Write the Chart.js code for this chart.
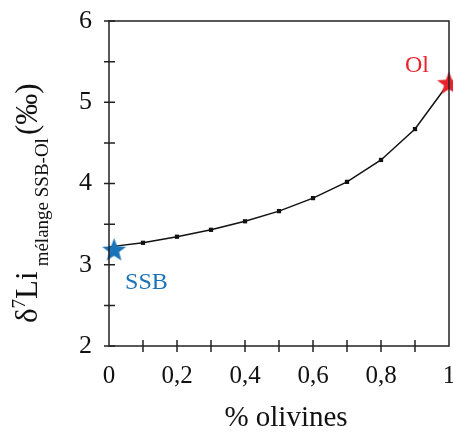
<!DOCTYPE html>
<html><head><meta charset="utf-8">
<script src="https://cdn.jsdelivr.net/npm/chart.js@4/dist/chart.umd.min.js"></script>
<style>html,body{margin:0;padding:0;background:#fff}#wrap{width:453px;height:433px;position:relative}</style>
</head><body><div id="wrap"><canvas id="c"></canvas></div>
<script>
// ---- data ----
const fractionOlivine = [0, 0.1, 0.2, 0.3, 0.4, 0.5, 0.6, 0.7, 0.8, 0.9, 1.0];
const delta7LiMix = [3.22, 3.27, 3.345, 3.43, 3.535, 3.66, 3.82, 4.02, 4.29, 4.67, 5.24];
const endMemberNames = ['SSB', 'Ol'];
const endMemberX = [0.015, 1.0];
const endMemberY = [3.19, 5.24];
const endMemberColors = ['#1a73b9', '#e8232b'];
const xTickLabels = ['0', '0,2', '0,4', '0,6', '0,8', '1'];
const yTickLabels = ['2', '3', '4', '5', '6'];

const SERIF = '"Liberation Serif", "DejaVu Serif", serif';

function makeStar(color, R) {
  const r = R * 0.42, s = Math.ceil(R * 2 + 2);
  const cv = document.createElement('canvas');
  cv.width = s; cv.height = s;
  const g = cv.getContext('2d');
  g.fillStyle = color;
  g.beginPath();
  for (let i = 0; i < 10; i++) {
    const a = -Math.PI / 2 + i * Math.PI / 5;
    const rr = i % 2 === 0 ? R : r;
    const px = s / 2 + rr * Math.cos(a), py = s / 2 + rr * Math.sin(a) + R * 0.1;
    i === 0 ? g.moveTo(px, py) : g.lineTo(px, py);
  }
  g.closePath(); g.fill();
  return cv;
}
const starImgs = endMemberColors.map(c => makeStar(c, 12.5));

const decor = {
  id: 'decor',
  afterDraw(chart) {
    const ctx = chart.ctx, a = chart.chartArea;
    const xs = chart.scales.x, ys = chart.scales.y;
    ctx.save();
    ctx.strokeStyle = '#222';
    ctx.lineWidth = 1.5;
    ctx.strokeRect(a.left, a.top, a.right - a.left, a.bottom - a.top);
    ctx.beginPath();
    for (let i = 1; i < 10; i++) {
      const px = xs.getPixelForValue(i / 10);
      ctx.moveTo(px, a.bottom - 6); ctx.lineTo(px, a.bottom + 6);
    }
    for (let i = 0; i <= 8; i++) {
      const py = ys.getPixelForValue(2 + i * 0.5);
      ctx.moveTo(a.left - 5, py); ctx.lineTo(a.left + 6, py);
    }
    ctx.stroke();
    // end member labels
    const meta = chart.getDatasetMeta(1);
    ctx.font = '24px ' + SERIF;
    ctx.textBaseline = 'alphabetic';
    const p0 = meta.data[0], p1 = meta.data[1];
    ctx.fillStyle = endMemberColors[0];
    ctx.textAlign = 'left';
    ctx.fillText(endMemberNames[0], p0.x + 11, p0.y + 40);
    ctx.fillStyle = endMemberColors[1];
    ctx.textAlign = 'right';
    ctx.fillText(endMemberNames[1], p1.x - 20, p1.y - 11);
    // y axis title with super/subscripts
    ctx.fillStyle = '#111';
    ctx.translate(37, 323);
    ctx.rotate(-Math.PI / 2);
    ctx.textAlign = 'left';
    let x = 0;
    const put = (t, size, dy) => {
      ctx.font = size + 'px ' + SERIF;
      ctx.fillText(t, x, dy);
      x += ctx.measureText(t).width;
    };
    put('\u03B4', 31, 0);
    put('7', 19, -12);
    put('Li', 31, 0);
    x += 5;
    put('m\u00E9lange SSB-Ol', 19, 11);
    x += 3;
    put('(\u2030)', 31, 0);
    ctx.restore();
    // x title
    ctx.save();
    ctx.fillStyle = '#111';
    ctx.font = '29px ' + SERIF;
    ctx.textAlign = 'center';
    ctx.textBaseline = 'alphabetic';
    ctx.fillText('% olivines', (a.left + a.right) / 2 + 7, 426);
    ctx.restore();
  }
};

new Chart(document.getElementById('c'), {
  type: 'scatter',
  data: {
    datasets: [
      {
        order: 2,
        data: fractionOlivine.map((x, i) => ({ x, y: delta7LiMix[i] })),
        showLine: true,
        borderColor: '#111',
        borderWidth: 1.5,
        backgroundColor: '#111',
        pointStyle: 'rect',
        pointRadius: fractionOlivine.map((x, i) => (i === 0 || i === fractionOlivine.length - 1) ? 0 : 3),
        pointBorderWidth: 0,
        tension: 0,
        clip: false
      },
      {
        order: 1,
        data: endMemberX.map((x, i) => ({ x, y: endMemberY[i] })),
        showLine: false,
        pointStyle: starImgs,
        pointRadius: 13,
        pointBorderWidth: 0,
        clip: false
      }
    ]
  },
  options: {
    responsive: true,
    maintainAspectRatio: false,
    animation: false,
    devicePixelRatio: 1,
    layout: { autoPadding: false, padding: { top: 21, right: 4, left: 0, bottom: 0 } },
    plugins: { legend: { display: false }, tooltip: { enabled: false } },
    scales: {
      x: {
        type: 'linear', min: 0, max: 1,
        afterFit(s) { s.height = 87; s.paddingLeft = 0; s.paddingRight = 0; },
        border: { display: false },
        grid: { display: false, drawTicks: false },
        ticks: {
          stepSize: 0.2, maxRotation: 0, autoSkip: false, padding: 15,
          color: '#111', font: { family: SERIF, size: 25 },
          callback: v => xTickLabels[Math.round(v * 5)]
        }
      },
      y: {
        type: 'linear', min: 2, max: 6,
        afterFit(s) { s.width = 109; s.paddingTop = 0; s.paddingBottom = 0; },
        border: { display: false },
        grid: { display: false, drawTicks: false },
        ticks: {
          stepSize: 1, autoSkip: false, padding: 17,
          color: '#111', font: { family: SERIF, size: 26 },
          callback: v => yTickLabels[Math.round(v) - 2]
        }
      }
    }
  },
  plugins: [decor]
});
</script>
</body></html>
